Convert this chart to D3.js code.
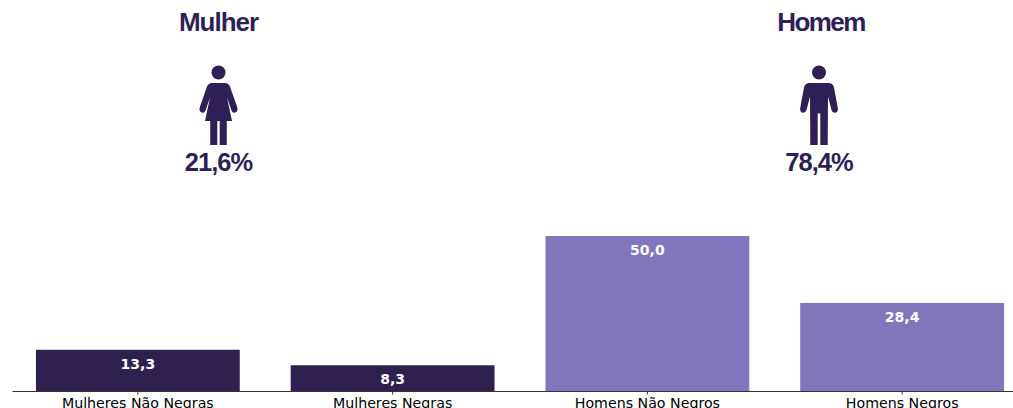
<!DOCTYPE html>
<html>
<head>
<meta charset="utf-8">
<script src="https://cdn.jsdelivr.net/npm/d3@7"></script>
<style>
    html, body { margin: 0; padding: 0; background: #fff; overflow: hidden; }
    svg { display: block; }
</style>
</head>
<body>
<div id="chart"></div>
<script>
// values
const categories = ["Mulheres Não Negras", "Mulheres Negras", "Homens Não Negros", "Homens Negros"];
const values = [13.3, 8.3, 50.0, 28.4];
const barColors = ["#2e2150", "#2e2150", "#8176bc", "#8176bc"];

const groupNames = ["Mulher", "Homem"];
const groupShares = ["21,6%", "78,4%"];
const groupCenters = [218.5, 819];

const dark = "#2e1f57";

const width = 1013;
const height = 408;
const baseline = 391;

const svg = d3.select("#chart")
    .append("svg")
    .attr("width", width)
    .attr("height", height);

// x runs past the window on the right, the axis line gets cut like the original
const x = d3.scaleBand()
    .domain(categories)
    .range([12, 1028])
    .paddingInner(0.2)
    .paddingOuter(0.094);

const y = d3.scaleLinear()
    .domain([0, 50])
    .range([baseline, 236]);

// bars
svg.selectAll("rect.bar")
    .data(values)
    .enter()
    .append("rect")
    .attr("class", "bar")
    .attr("x", (d, i) => x(categories[i]))
    .attr("y", d => y(d))
    .attr("width", x.bandwidth())
    .attr("height", d => baseline - y(d))
    .attr("fill", (d, i) => barColors[i]);

// value labels
svg.selectAll("text.value")
    .data(values)
    .enter()
    .append("text")
    .attr("class", "value")
    .attr("x", (d, i) => x(categories[i]) + x.bandwidth() / 2)
    .attr("y", d => y(d) + 19)
    .attr("text-anchor", "middle")
    .attr("font-family", "DejaVu Sans")
    .attr("font-weight", "bold")
    .attr("font-size", 14)
    .attr("fill", "#fff")
    .text(d => d.toFixed(1).replace(".", ","));

// axis
const axis = svg.append("g")
    .attr("transform", `translate(0 ${baseline})`)
    .call(d3.axisBottom(x).tickSizeInner(3.5).tickSizeOuter(0).tickPadding(3));

axis.select(".domain").attr("stroke", "#333").attr("stroke-width", 1.1);
axis.selectAll(".tick line").attr("stroke", "#333");
axis.selectAll(".tick text")
    .attr("font-family", "DejaVu Sans")
    .attr("font-size", 14.2)
    .attr("fill", "#000");

// pictograms, drawn around (0,0) at the centre of the head
function drawWoman(g) {
    g.append("path")
        .attr("d", "M-6.5 10.5 L6.5 10.5 Q10 10.5 11.5 14 L18.8 35 Q19.8 39 16.8 40 Q14 40.8 13 38 L8.5 25 L13.5 48.5 L8.3 48.5 L8.3 72.5 L1.2 72.5 L1.2 48.5 L-1.2 48.5 L-1.2 72.5 L-8.3 72.5 L-8.3 48.5 L-13.5 48.5 L-8.5 25 L-13 38 Q-14 40.8 -16.8 40 Q-19.8 39 -18.8 35 L-11.5 14 Q-10 10.5 -6.5 10.5 Z")
        .attr("fill", dark);
}

function drawMan(g) {
    g.append("path")
        .attr("d", "M-9.5 10.5 L9.5 10.5 Q14 10.5 15 15 L18.8 35.5 Q19.3 39.8 16.3 40.2 Q13.3 40.6 12.5 37.5 L9 24 L8.7 72.5 L1.3 72.5 L1.3 41 L-1.3 41 L-1.3 72.5 L-8.7 72.5 L-9 24 L-12.5 37.5 Q-13.3 40.6 -16.3 40.2 Q-19.3 39.8 -18.8 35.5 L-15 15 Q-14 10.5 -9.5 10.5 Z")
        .attr("fill", dark);
}

const groups = svg.selectAll("g.group")
    .data(groupNames)
    .enter()
    .append("g")
    .attr("class", "group")
    .attr("transform", (d, i) => `translate(${groupCenters[i]} 0)`);

// "Homem" sits tighter than "Mulher" in the original
groups.append("text")
    .attr("x", (d, i) => i === 1 ? 2 : 0)
    .attr("y", 31)
    .attr("text-anchor", "middle")
    .attr("font-family", "Liberation Sans")
    .attr("font-weight", "bold")
    .attr("font-size", 26)
    .attr("letter-spacing", (d, i) => i === 1 ? -1.6 : -1)
    .attr("fill", dark)
    .text(d => d);

groups.append("text")
    .attr("y", 170.5)
    .attr("text-anchor", "middle")
    .attr("font-family", "Liberation Sans")
    .attr("font-weight", "bold")
    .attr("font-size", 25.5)
    .attr("letter-spacing", -1)
    .attr("fill", dark)
    .text((d, i) => groupShares[i]);

const icons = groups.append("g")
    .attr("transform", "translate(0 72.5)");

icons.append("circle")
    .attr("r", 7)
    .attr("fill", dark);

icons.filter((d, i) => i === 0).call(drawWoman);
icons.filter((d, i) => i === 1).call(drawMan);
</script>
</body>
</html>
